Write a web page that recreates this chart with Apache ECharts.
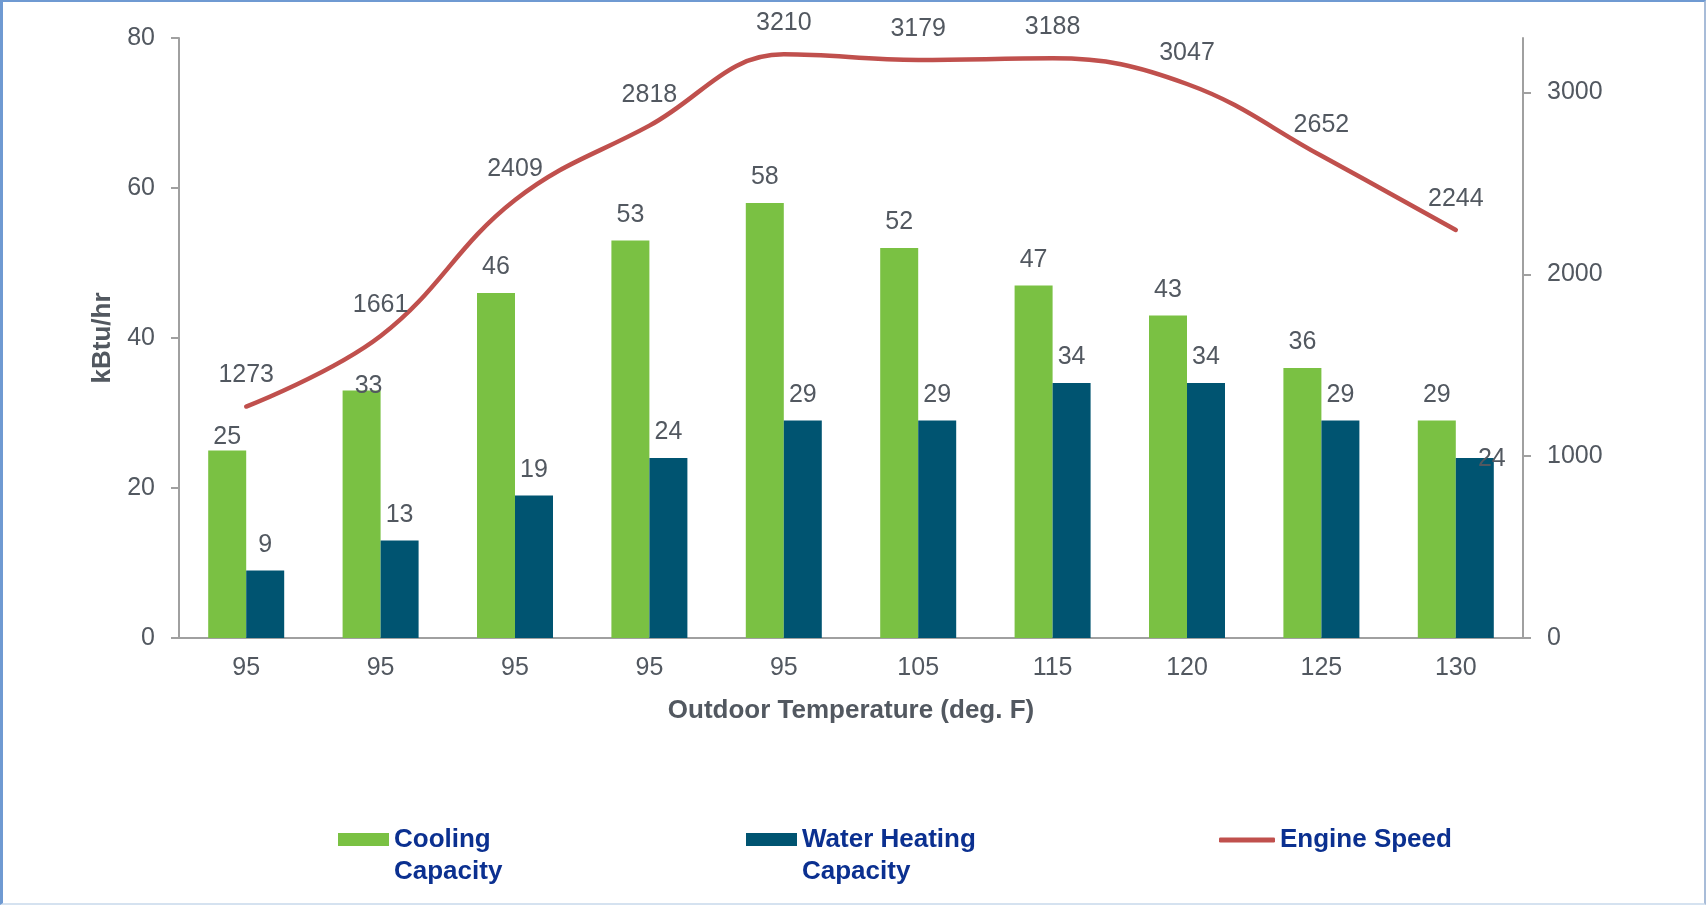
<!DOCTYPE html>
<html>
<head>
<meta charset="utf-8">
<script src="https://cdn.jsdelivr.net/npm/echarts@6/dist/echarts.min.js"></script>
<style>
  html, body { margin: 0; padding: 0; background: #ffffff; }
  #chart { position: absolute; left: 0; top: 0; width: 1706px; height: 905px; }
  #frame {
    position: absolute; left: 0; top: 0; width: 1706px; height: 905px;
    box-sizing: border-box; pointer-events: none;
    border-top: 2px solid #6F9AD2; border-left: 3px solid #6F9AD2;
    border-right: 2px solid #A8BCD8; border-bottom: 2px solid #D5E2F0;
  }
</style>
</head>
<body>
<div id="chart"></div>
<div id="frame"></div>
<script>
// Test conditions (outdoor temperature, deg. F)
const temperatures = ['95', '95', '95', '95', '95', '105', '115', '120', '125', '130'];
// Capacities, kBtu/hr
const coolingCapacity = [25, 33, 46, 53, 58, 52, 47, 43, 36, 29];
const waterHeatingCapacity = [9, 13, 19, 24, 29, 29, 34, 34, 29, 24];
// Engine speed, rpm
const engineSpeed = [1273, 1661, 2409, 2818, 3210, 3179, 3188, 3047, 2652, 2244];
// Axis ticks
const leftTicks = [0, 20, 40, 60, 80];
const rightTicks = [0, 1000, 2000, 3000];
const rightMax = 3300;

const textColor = '#525860';
const legendColor = '#0B3090';
const axisColor = '#A0A0A0';
const font = "'Liberation Sans', Arial, sans-serif";

// Small label shifts that keep crowded labels apart
const coolingLabelShift = { 0: [0, 12], 1: [7, 21] };
const waterLabelShift = { 9: [17, 27] };

function withLabelShift(values, shifts) {
  return values.map(function (v, i) {
    return shifts[i] ? { value: v, label: { offset: shifts[i] } } : v;
  });
}

// Two-line legend text: a blank first line keeps "Cooling"/"Water Heating" level with the swatch
const legendTwoLines = function (name) { return '\n' + name.replace(' Capacity', '\nCapacity'); };
const legendTextStyle = {
  fontSize: 26, fontWeight: 'bold', color: legendColor, fontFamily: font, lineHeight: 32
};

const chart = echarts.init(document.getElementById('chart'), null, { renderer: 'canvas' });

chart.setOption({
  animation: false,
  backgroundColor: '#ffffff',
  textStyle: { fontFamily: font },
  grid: { left: 179, right: 183, top: 38, bottom: 267, containLabel: false },
  legend: [
    {
      data: ['Cooling Capacity'], left: 338, top: 791.5, padding: 0,
      icon: 'rect', itemWidth: 51, itemHeight: 13, selectedMode: false,
      formatter: legendTwoLines,
      textStyle: legendTextStyle
    },
    {
      data: ['Water Heating Capacity'], left: 746, top: 791.5, padding: 0,
      icon: 'rect', itemWidth: 51, itemHeight: 13, selectedMode: false,
      formatter: legendTwoLines,
      textStyle: legendTextStyle
    },
    {
      data: ['Engine Speed'], left: 1219, top: 824, padding: 0,
      icon: 'roundRect', itemWidth: 56, itemHeight: 5, selectedMode: false,
      itemStyle: { color: '#C0504D' },
      textStyle: legendTextStyle
    }
  ],
  xAxis: {
    type: 'category',
    data: temperatures,
    axisTick: { show: false },
    axisLine: { show: true, lineStyle: { color: axisColor, width: 2 } },
    axisLabel: { margin: 18, fontSize: 25, color: textColor },
    name: 'Outdoor Temperature (deg. F)',
    nameLocation: 'middle',
    nameGap: 60,
    nameTextStyle: { fontSize: 26, fontWeight: 'bold', color: textColor }
  },
  yAxis: [
    {
      type: 'value',
      min: leftTicks[0],
      max: leftTicks[leftTicks.length - 1],
      interval: leftTicks[1] - leftTicks[0],
      axisLine: { show: true, lineStyle: { color: axisColor, width: 2 } },
      axisTick: { show: true, length: 8, lineStyle: { color: axisColor, width: 2 } },
      splitLine: { show: false },
      axisLabel: { margin: 24, fontSize: 25, color: textColor },
      name: 'kBtu/hr',
      nameLocation: 'middle',
      nameGap: 55,
      nameTextStyle: { fontSize: 26, fontWeight: 'bold', color: textColor }
    },
    {
      type: 'value',
      position: 'right',
      min: rightTicks[0],
      max: rightMax,
      axisLine: { show: true, lineStyle: { color: axisColor, width: 2 } },
      axisTick: { show: true, length: 8, customValues: rightTicks, lineStyle: { color: axisColor, width: 2 } },
      splitLine: { show: false },
      axisLabel: {
        margin: 24, fontSize: 25, color: textColor, customValues: rightTicks,
        formatter: function (v) { return String(v); }
      }
    }
  ],
  series: [
    {
      name: 'Cooling Capacity',
      type: 'bar',
      data: withLabelShift(coolingCapacity, coolingLabelShift),
      barWidth: 38,
      barGap: '0%',
      itemStyle: { color: '#7AC143' },
      label: { show: true, position: 'top', distance: 13, fontSize: 25, color: textColor }
    },
    {
      name: 'Water Heating Capacity',
      type: 'bar',
      data: withLabelShift(waterHeatingCapacity, waterLabelShift),
      barWidth: 38,
      barGap: '0%',
      itemStyle: { color: '#005471' },
      label: { show: true, position: 'top', distance: 13, fontSize: 25, color: textColor }
    },
    {
      name: 'Engine Speed',
      type: 'line',
      yAxisIndex: 1,
      data: engineSpeed,
      smooth: 0.4,
      symbol: 'circle',
      symbolSize: 1,
      itemStyle: { color: '#C0504D' },
      lineStyle: { color: '#C0504D', width: 4.5, cap: 'round' },
      label: { show: true, position: 'top', distance: 18, fontSize: 25, color: textColor },
      z: 3
    }
  ]
});
</script>
</body>
</html>
